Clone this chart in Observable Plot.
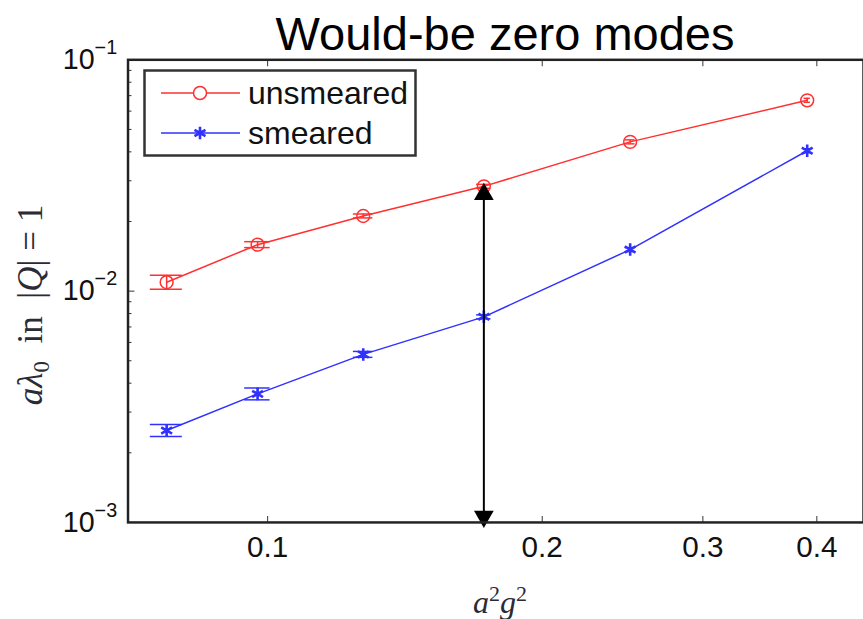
<!DOCTYPE html>
<html><head><meta charset="utf-8">
<script src="https://cdn.jsdelivr.net/npm/d3@7"></script>
<script src="https://cdn.jsdelivr.net/npm/@observablehq/plot@0.6"></script>
<style>
html,body{margin:0;padding:0;background:#fff;overflow:hidden}
#wrap{position:relative;width:863px;height:619px;overflow:hidden;background:#fff}
#wrap > svg{position:absolute;left:0;top:0}
.title{position:absolute;left:505px;top:10px;transform:translateX(-50%);font:47px/47px "Liberation Sans",Arial,sans-serif;color:#000;white-space:nowrap}
.ylab{position:absolute;left:33px;top:305px;transform:translate(-50%,-50%) rotate(-90deg);font:35px "Liberation Serif","Times New Roman",serif;color:#2b2b38;white-space:nowrap}
.xlab{position:absolute;left:500px;top:578px;transform:translateX(-50%);font:32px/32px "Liberation Serif","Times New Roman",serif;color:#2b2b38;white-space:nowrap}
.ylab sub{font-size:23px;vertical-align:-7px}
.xlab sup{font-size:22px;vertical-align:12px}
</style></head><body><div id="wrap"></div><script>
// ---- data ----
const title = "Would-be zero modes";
const seriesNames = ["unsmeared", "smeared"];
const seriesColors = ["#ff3030", "#3030ff"];
const xValues = [0.0775, 0.0975, 0.1273, 0.1726, 0.2497, 0.3904];
const unsmeared   = [0.01093, 0.01588, 0.02113, 0.02838, 0.04418, 0.06681];
const unsmearedLo = [0.01020, 0.01542, 0.02072, 0.02783, 0.04332, 0.06551];
const unsmearedHi = [0.01171, 0.01636, 0.02155, 0.02894, 0.04506, 0.06814];
const smeared     = [0.002496, 0.003594, 0.005327, 0.007742, 0.01512, 0.04044];
const smearedLo   = [0.002353, 0.003388, 0.005172, 0.007591, 0.01482, 0.03965];
const smearedHi   = [0.002648, 0.003813, 0.005487, 0.007896, 0.01542, 0.04125];
const xTicks = [0.1, 0.2, 0.3, 0.4];
const xTickLabels = ["0.1", "0.2", "0.3", "0.4"];
const yTicks = [0.001, 0.01, 0.1];
const yTickExponents = ["\u22123", "\u22122", "\u22121"];
const xDomain = [0.0703, 0.45];
const yDomain = [0.001, 0.1];
const arrowX = 0.1726, arrowFrom = 0.001, arrowTo = 0.02838;

// ---- build ----
const mk = (ys, lo, hi, s) => xValues.map((x, i) => ({x, y: ys[i], lo: lo[i], hi: hi[i], s}));
const red = mk(unsmeared, unsmearedLo, unsmearedHi, seriesNames[0]);
const blue = mk(smeared, smearedLo, smearedHi, seriesNames[1]);
const tee = (d3.max(xValues) - d3.min(xValues)) / 100;
const minorY = d3.scaleLog().domain(yDomain).ticks().filter(t => !yTicks.some(m => Math.abs(m - t) / m < 1e-9));
const blank = () => "";

function errMarks(rows, color) {
  return [
    Plot.ruleX(rows, {x: "x", y1: "lo", y2: "hi", stroke: color, strokeWidth: 1.5}),
    Plot.ruleY(rows, {y: "lo", x1: d => d.x - tee, x2: d => d.x + tee, stroke: color, strokeWidth: 1.5}),
    Plot.ruleY(rows, {y: "hi", x1: d => d.x - tee, x2: d => d.x + tee, stroke: color, strokeWidth: 1.5})
  ];
}

const chart = Plot.plot({
  width: 873, height: 619,
  marginTop: 60, marginBottom: 91, marginLeft: 129, marginRight: 0,
  x: {type: "log", domain: xDomain},
  y: {type: "log", domain: yDomain},
  style: {fontFamily: "'Liberation Sans', Arial, sans-serif", color: "#111", background: "transparent"},
  marks: [
    Plot.axisY({anchor: "left", ticks: minorY, tickSize: 4, dx: 4, tickFormat: blank, label: null, stroke: "#333"}),
    Plot.axisY({anchor: "left", ticks: yTicks, tickSize: 7, dx: 7, tickFormat: blank, label: null, stroke: "#333"}),
    Plot.axisX({anchor: "bottom", ticks: xTicks, tickSize: 6, dy: -6, tickFormat: blank, label: null, stroke: "#333"}),
    Plot.axisX({anchor: "top", ticks: xTicks, tickSize: 6, dy: 6, tickFormat: blank, label: null, stroke: "#333"}),
    Plot.axisY({anchor: "left", ticks: yTicks, tickSize: 0, tickPadding: 11, fontSize: 29,
      tickFormat: d => "10^" + yTickExponents[yTicks.indexOf(d)], label: null}),
    Plot.axisX({anchor: "bottom", ticks: xTicks, tickSize: 0, tickPadding: 14, fontSize: 30,
      tickFormat: d => xTickLabels[xTicks.indexOf(d)], label: null}),
    ...errMarks(red, seriesColors[0]),
    ...errMarks(blue, seriesColors[1]),
    Plot.line(red, {x: "x", y: "y", stroke: seriesColors[0], strokeWidth: 1.5}),
    Plot.line(blue, {x: "x", y: "y", stroke: seriesColors[1], strokeWidth: 1.5}),
    Plot.dot(red, {x: "x", y: "y", r: 6.5, stroke: seriesColors[0], fill: "none", strokeWidth: 1.5}),
    Plot.dot(blue, {x: "x", y: "y", r: 6, symbol: "asterisk", stroke: seriesColors[1], strokeWidth: 2.6}),
    Plot.ruleX([{x: arrowX, y1: arrowFrom, y2: arrowTo}], {x: "x", y1: "y1", y2: "y2", stroke: "#000", strokeWidth: 2}),
    Plot.dot([{x: arrowX, y: arrowTo}], {x: "x", y: "y", symbol: "triangle", r: 7.4, fill: "#000", stroke: "none", dy: 8}),
    Plot.dot([{x: arrowX, y: arrowFrom}], {x: "x", y: "y", symbol: "triangle", r: 7.4, fill: "#000", stroke: "none", rotate: 180, dy: -6}),
    Plot.frame({stroke: "#222", strokeWidth: 2.5})
  ]
});

// superscript exponents on y tick labels
chart.querySelectorAll('g[aria-label="y-axis tick label"] text').forEach(t => {
  const parts = t.textContent.split("^");
  if (parts.length !== 2) return;
  t.textContent = parts[0];
  const ts = document.createElementNS("http://www.w3.org/2000/svg", "tspan");
  ts.setAttribute("dy", "-0.75em");
  ts.setAttribute("font-size", "20");
  ts.textContent = parts[1];
  t.appendChild(ts);
});

const wrap = document.getElementById("wrap");
wrap.appendChild(chart);

// legend overlay
const leg = d3.select(wrap).append("svg").attr("width", 863).attr("height", 619)
  .style("position", "absolute").style("left", 0).style("top", 0);
leg.append("rect").attr("x", 144.5).attr("y", 70.5).attr("width", 271).attr("height", 85)
  .attr("fill", "#fff").attr("stroke", "#333").attr("stroke-width", 2.5);
const rowY = [93, 133];
seriesNames.forEach((name, i) => {
  const g = leg.append("g");
  g.append("line").attr("x1", 161).attr("x2", 240).attr("y1", rowY[i]).attr("y2", rowY[i])
    .attr("stroke", seriesColors[i]).attr("stroke-width", 1.5);
  if (i === 0) {
    g.append("circle").attr("cx", 200).attr("cy", rowY[i]).attr("r", 6.5)
      .attr("fill", "#fff").attr("stroke", seriesColors[i]).attr("stroke-width", 1.5);
  } else {
    g.append("path").attr("transform", `translate(200,${rowY[i]})`)
      .attr("d", d3.symbol(d3.symbolAsterisk, Math.PI * 36)())
      .attr("fill", "none").attr("stroke", seriesColors[i]).attr("stroke-width", 2.6);
  }
  g.append("text").attr("x", 248).attr("y", rowY[i] + 11)
    .attr("font-family", "'Liberation Sans', Arial, sans-serif").attr("font-size", 32)
    .attr("fill", "#111").text(name);
});

const tdiv = document.createElement("div");
tdiv.className = "title"; tdiv.textContent = title; wrap.appendChild(tdiv);
const yl = document.createElement("div");
yl.className = "ylab";
yl.innerHTML = "<i>a</i><i>\u03bb</i><sub>0</sub>&nbsp;&nbsp;in&nbsp;&nbsp;|<i>Q</i>|&nbsp;=&nbsp;1";
wrap.appendChild(yl);
const xl = document.createElement("div");
xl.className = "xlab";
xl.innerHTML = "<i>a</i><sup>2</sup><i>g</i><sup>2</sup>";
wrap.appendChild(xl);
</script></body></html>
